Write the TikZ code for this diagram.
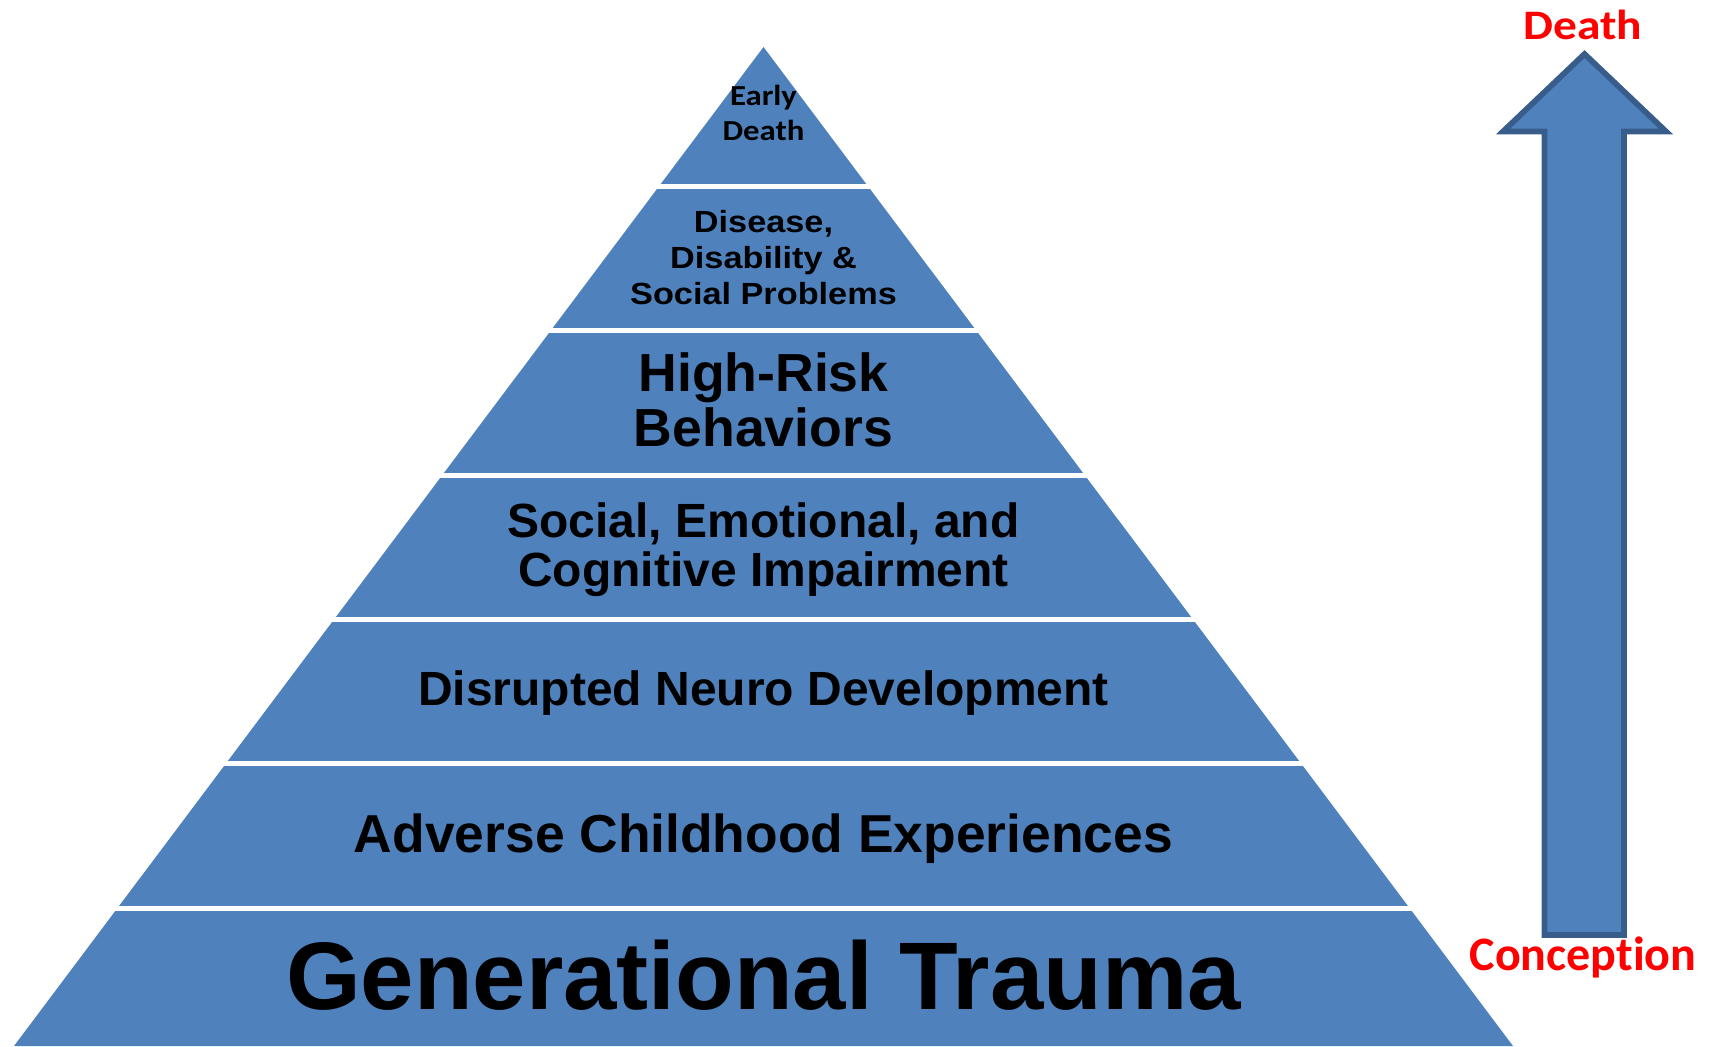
\documentclass[tikz,border=0pt]{standalone}
\usepackage{fontspec}
\setmainfont{Liberation Sans}
\newfontfamily\widesans[FakeStretch=1.12]{Liberation Sans}
\newfontfamily\calibri[Ligatures=NoCommon]{Carlito}
\newfontfamily\widecal[FakeStretch=1.13,Ligatures=NoCommon]{Carlito}
\usepackage{tikz}

\definecolor{pyrblue}{RGB}{79,129,189}
\definecolor{pyredge}{RGB}{56,93,138}
\definecolor{agered}{RGB}{255,0,0}

\tikzset{
  tier/.style={anchor=base, inner sep=0.75pt, align=center, text=black},
  agelabel/.style={anchor=base, inner sep=0.75pt, text=agered}
}

\begin{document}
\begin{tikzpicture}[x=0.5pt,y=0.5pt,yscale=-1]
\useasboundingbox (0,0) rectangle (1711,1046);

%Pyramid
\fill [pyrblue] (763.5,47) -- (14,1046) -- (1513,1046) -- cycle ;
%White gaps between the tiers
\foreach \y in {186.5,330.8,475.1,619.4,763.7,908}
  \draw [white, line width=2.5pt] (0,\y) -- (1530,\y) ;

%Up Arrow
\draw [pyredge, fill=pyrblue, line width=2.85pt] (1584.5,54) -- (1666,131.5) -- (1624,131.5) -- (1624,935) -- (1544.5,935) -- (1544.5,131.5) -- (1503,131.5) -- cycle ;

% Text Node (base = last line)
\draw (763.5,140) node (early) [tier, font={\widecal\bfseries\fontsize{14.5}{17.5}\selectfont}] {Early\\Death};
% Text Node
\draw (763.5,304.5) node (disease) [tier, font={\widesans\bfseries\fontsize{15.3}{17.9}\selectfont}] {Disease,\\Disability \&\\Social Problems};
% Text Node
\draw (763.5,446.5) node (risk) [tier, font={\bfseries\fontsize{26.8}{27.6}\selectfont}] {High-Risk\\Behaviors};
% Text Node
\draw (763.5,586.5) node (impair) [tier, font={\bfseries\fontsize{24}{24.5}\selectfont}] {Social, Emotional, and\\Cognitive Impairment};
% Text Node
\draw (763.5,705.7) node (neuro) [tier, font={\bfseries\fontsize{24}{28}\selectfont}] {Disrupted Neuro Development};
% Text Node
\draw (763.5,852.3) node (aces) [tier, font={\bfseries\fontsize{26.7}{30}\selectfont}] {Adverse Childhood Experiences};
% Text Node
\draw (763.5,1009) node (trauma) [tier, font={\bfseries\fontsize{48}{55}\selectfont}] {Generational Trauma};

% Text Node
\draw (1583,39.3) node (death) [agelabel, font={\widecal\bfseries\fontsize{21}{25}\selectfont}] {Death};
% Text Node
\draw (1583,970.7) node (conception) [agelabel, font={\calibri\bfseries\fontsize{24}{28}\selectfont}] {Conception};

\end{tikzpicture}
\end{document}
